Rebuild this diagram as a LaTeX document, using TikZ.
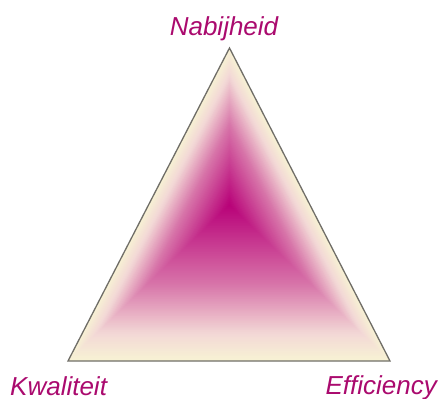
\documentclass[tikz,border=0pt]{standalone}
\usepackage{fontspec}
\setmainfont{Liberation Sans}
\usetikzlibrary{calc}
\definecolor{cream}{RGB}{247,242,212}
\definecolor{blush}{RGB}{243,216,214}
\definecolor{pinkm}{RGB}{216,118,170}
\definecolor{mag}{RGB}{184,0,120}
\definecolor{labelc}{RGB}{170,10,110}
\definecolor{edgec}{RGB}{112,110,104}
\tikzset{lbl/.style={inner sep=0pt, text=labelc, font=\fontsize{26}{30}\selectfont\itshape}}
\begin{document}
\begin{tikzpicture}[x=1pt,y=-1pt]
\useasboundingbox (0,0) rectangle (440,399);
\coordinate (A) at (229.5,48);
\coordinate (B) at (68,361);
\coordinate (C) at (390,361);
\coordinate (O) at (229.5,205);
\foreach \i in {0,...,90}{
  \pgfmathsetmacro\t{\i/90}
  \ifdim\t pt<0.17pt
    \pgfmathsetmacro\p{\t/0.17*100}\colorlet{cc}{blush!\p!cream}
  \else\ifdim\t pt<0.48pt
    \pgfmathsetmacro\p{(\t-0.17)/0.31*100}\colorlet{cc}{pinkm!\p!blush}
  \else
    \pgfmathsetmacro\p{(\t-0.48)/0.52*100}\colorlet{cc}{mag!\p!pinkm}
  \fi\fi
  \fill[cc] ($(A)!\t!(O)$) -- ($(B)!\t!(O)$) -- ($(C)!\t!(O)$) -- cycle;
}
\draw[edgec, line width=1.3pt, line join=miter] (A) -- (B) -- (C) -- cycle;
\node[lbl, anchor=base] (n) at (224,35) {Nabijheid};
\node[lbl, anchor=base west] (k) at (10,395) {Kwaliteit};
\node[lbl, anchor=base east] (e) at (437,394) {Efficiency};
\end{tikzpicture}
\end{document}
